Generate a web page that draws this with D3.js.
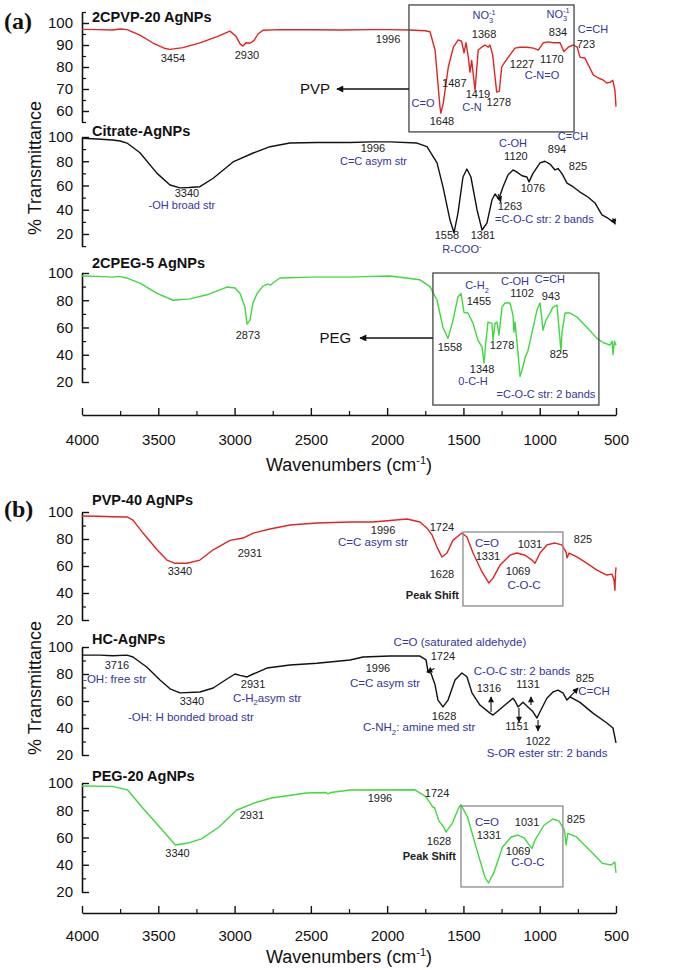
<!DOCTYPE html>
<html><head><meta charset="utf-8">
<script src="https://cdn.jsdelivr.net/npm/d3@7"></script>
<style>body{margin:0;background:#fff} svg{display:block}</style>
</head><body>
<svg id="c" width="685" height="970"></svg>
<script>
// ---------------- DATA ----------------
const xTickValues = [4000,3500,3000,2500,2000,1500,1000,500];
const xMinorTicks = [3750,3250,2750,2250,1750,1250,750];

// (a) 2CPVP-20 AgNPs
const pvp20_wn = [4000,3900,3800,3750,3705,3620,3535,3454,3423,3338,3227,3115,3030,2991,2964,2945,2925,2899,2873,2846,2814,2700,2500,2300,2100,1996,1850,1750,1719,1686,1654,1648,1632,1599,1566,1534,1512,1496,1483,1468,1457,1446,1424,1403,1381,1359,1337,1326,1308,1293,1282,1265,1249,1228,1195,1162,1129,1086,1042,1009,977,944,911,867,841,813,780,754,736,703,682,649,616,583,561,539,521,507,500];
const pvp20_t  = [97.1,97,96.8,97.3,97,94.5,90.9,88.4,88,88.8,91,93.8,96.3,94,90.5,89.5,91,90.8,92,95,96.7,97,96.9,96.8,97,97,96.8,96.5,96,87.7,62,59,63.6,80,89,92.3,91.7,86.4,91,84.5,77.7,83,69.5,87.7,89,90,89,90,85.5,75.5,68.6,69,80,82.3,85.5,88.6,89,89,88.6,87.7,91,91.4,91,91,87,89,90,89,84.5,84,81,76.4,75,74,72.7,73,74,69.5,62];

// (a) Citrate-AgNPs
const citrate_wn = [4000,3900,3800,3750,3705,3620,3508,3423,3358,3300,3227,3140,3010,2878,2768,2637,2460,2243,2100,1981,1805,1739,1673,1634,1588,1562,1536,1503,1477,1451,1411,1378,1346,1313,1293,1267,1241,1208,1175,1149,1116,1084,1070,1044,998,966,933,900,880,855,821,782,736,684,638,592,553,520,500];
const citrate_t  = [99,98.3,97.5,96.7,95,87,70,60.4,58,58.3,59,66,79.4,86.8,92,95,95.5,95.5,96,96,95,92,78.6,58.8,31.5,21,37,67,73.6,67,40,23.3,29,48,53,49,58.8,68.7,72.8,71,68,67,63,70,78.6,80,77.7,72.8,74,70,62,59,54.6,50.5,45.6,35.7,33,30,31.5];

// (a) 2CPEG-5 AgNPs
const peg5_wn = [4000,3900,3800,3760,3705,3620,3508,3403,3292,3181,3050,2997,2964,2932,2918,2899,2879,2853,2814,2781,2765,2745,2702,2500,2243,2100,1981,1785,1719,1673,1634,1601,1568,1536,1516,1496,1470,1437,1405,1378,1365,1352,1339,1313,1306,1293,1280,1267,1247,1228,1195,1175,1169,1162,1142,1129,1110,1096,1077,1051,1018,998,985,979,959,933,913,887,874,861,854,834,802,756,690,625,585,539,525,520,510,500];
const peg5_t  = [97.8,97.5,97,97.5,96.3,92.6,85,80,81,84,89.7,89,85,75,62.5,65.4,78,85,90.4,92,91,93,96.3,97,97,97.5,97.8,95,90,80,60,52,65.4,82.4,85,71,70.6,63,50.7,45.6,34,50.7,64,63,50.7,63,64,54.4,75,78,78,69,56.6,64,41,24,31,38,43,56,72.8,78,65.4,58,65.4,70.6,75,76.5,60,43,56,70.6,70.6,67.7,60,52,49,47,50,40,50,47];

// (b) PVP-40 AgNPs
const pvp40_wn = [4000,3900,3800,3705,3666,3600,3508,3443,3390,3312,3227,3140,3030,2945,2878,2768,2637,2460,2243,2092,1870,1785,1739,1706,1673,1641,1608,1569,1510,1477,1437,1378,1333,1306,1260,1195,1149,1096,1051,1031,998,953,900,855,828,821,808,756,690,625,560,527,513,507,503,500];
const pvp40_t  = [97,96.8,96.5,96.3,94,84.4,72,64.4,62,62,64.4,72,79,80.7,84.4,87.4,90.4,91.8,92.6,92.6,94.8,92.6,88,83,74,66.7,69.6,79,84.4,81.5,69.6,55.6,47.4,51,60.7,68,69.6,68,64.4,62,69.6,75.6,77,75.6,70.4,66,69.6,66.7,62,57,53.3,54,49.6,42,55,59];

// (b) HC-AgNPs
const hc_wn = [4000,3882,3800,3705,3666,3574,3489,3423,3358,3227,3140,3050,2997,2964,2918,2878,2788,2637,2460,2243,2158,1981,1785,1745,1732,1713,1686,1667,1634,1601,1555,1510,1477,1444,1392,1326,1306,1280,1228,1175,1162,1142,1110,1077,1044,1018,998,953,913,880,848,821,802,736,651,560,520,500];
const hc_t  = [94,94,93.5,94,92.6,85,75.6,69,66,66.7,69.6,76.3,80,79,77.8,80,84.4,86.7,88,90.4,92.6,93.3,93.3,90.4,81.5,80.7,72,60.7,55.6,60.7,75.6,80.7,78,66,57,51,49.6,52,57,62,60,55.6,59,55.6,52,47.4,52,62,66.7,68,66,60.7,63,59,51,43.7,40,29];

// (b) PEG-20 AgNPs
const peg20_wn = [4000,3800,3703,3589,3474,3388,3302,3217,3102,2988,2873,2759,2530,2400,2388,2370,2243,1818,1746,1702,1690,1660,1629,1615,1572,1529,1516,1473,1415,1359,1336,1301,1244,1187,1144,1100,1072,1051,1031,972,915,873,838,827,816,759,674,588,531,508,500];
const peg20_t  = [97.8,97.5,95,80,65.5,54.5,56,59,67.7,80,85.3,89,92.7,93,92,93,94.9,95,90,82.4,82,72,67.7,64,70.6,82.4,84,75,52,31,26.6,34,53,60.4,61.8,59.6,55,52,58,69,73.6,72,65.5,54.5,63,60.4,50.8,41,39.8,42,34];

// ---------------- LAYOUT ----------------
const RED = "#e02424", BLACK = "#111", GREEN = "#3fd83f", BLUE = "#34349c", LBL = "#222";
const FONT = "'Liberation Sans', Arial, Helvetica, sans-serif";
const svg = d3.select("#c");
const x = d3.scaleLinear().domain([4000, 500]).range([82, 616]);

const panels = [
  {id:"a", label:"(a)", labelY:29, axisY:415, tickLabY:440, titleY:465, yTitleY:168},
  {id:"b", label:"(b)", labelY:517, axisY:913, tickLabY:936, titleY:957, yTitleY:688}
];

const subs = [
  {panel:"a", name:"2CPVP-20 AgNPs", ty:17, dom:[55,105], rng:[122,12], major:[60,70,80,90,100], minor:[55,65,75,85,95,105], wn:pvp20_wn, t:pvp20_t, color:RED},
  {panel:"a", name:"Citrate-AgNPs", ty:131, dom:[10,100], rng:[246.1,137], major:[20,40,60,80,100], minor:[10,30,50,70,90], wn:citrate_wn, t:citrate_t, color:BLACK},
  {panel:"a", name:"2CPEG-5 AgNPs", ty:263, dom:[20,100], rng:[382,273], major:[20,40,60,80,100], minor:[30,50,70,90], wn:peg5_wn, t:peg5_t, color:GREEN},
  {panel:"b", name:"PVP-40 AgNPs", ty:500, dom:[20,100], rng:[620,512], major:[20,40,60,80,100], minor:[30,50,70,90], wn:pvp40_wn, t:pvp40_t, color:RED},
  {panel:"b", name:"HC-AgNPs", ty:639, dom:[20,100], rng:[755,647], major:[20,40,60,80,100], minor:[30,50,70,90], wn:hc_wn, t:hc_t, color:BLACK},
  {panel:"b", name:"PEG-20 AgNPs", ty:776, dom:[20,100], rng:[892,783], major:[20,40,60,80,100], minor:[30,50,70,90], wn:peg20_wn, t:peg20_t, color:GREEN}
];

// annotation text: [text, wavenumber, %T, colour key, anchor]
const notes = [
  [ ["3454",3404,82.3,"k"],["2930",2919,83.6,"k"],["1996",1994,90.9,"k"],["NO_{3}^{-1}",1365,101.6,"b"],["1368",1365,93.4,"k"],
    ["NO_{3}^{-1}",880,102.5,"b"],["834",880,94.3,"k"],["C=CH",651,95.5,"b"],["723",697,88.6,"k"],["1227",1116,79.5,"k"],
    ["1170",920,81.8,"k"],["C-N=O",985,74.6,"b"],["1487",1560,71,"k"],["1419",1405,65.8,"k"],["1278",1268,62.4,"k"],
    ["C=O",1765,61.8,"b"],["C-N",1444,59.8,"b"],["1648",1641,53.6,"k"] ],
  [ ["3340",3312,50.6,"k"],["-OH broad str",3345,40.8,"b"],["1996",2093,87.5,"k"],["C=C asym str",2309,76.5,"b","start"],
    ["C-OH",1175,91.5,"b"],["1120",1156,80.8,"k"],["C=CH",782,97.8,"b"],["894",887,86.8,"k"],["825",749,72.8,"k"],
    ["1076",1044,54.6,"k"],["1263",1195,39.8,"k"],["=C-O-C str: 2 bands",1293,29.1,"b","start"],["1558",1608,15.9,"k"],
    ["1381",1372,15.9,"k"],["R-COO^{-}",1510,4.3,"b"] ],
  [ ["2873",2912,51.6,"k"],["C-H_{2}",1411,88,"b"],["1455",1398,76.8,"k"],["C-OH",1162,91.2,"b"],["1102",1116,82.4,"k"],
    ["C=CH",933,92.7,"b"],["943",926,80.2,"k"],["1558",1588,42.8,"k"],["1278",1247,44.2,"k"],["825",874,37.6,"k"],
    ["1348",1378,26.6,"k"],["0-C-H",1437,17.5,"b"],["=C-O-C str: 2 bands",959,8.3,"b"] ],
  [ ["3340",3358,53.3,"k"],["2931",2899,66.7,"k"],["1996",2027,83.6,"k"],["C=C asym str",2322,74.8,"b","start"],
    ["1724",1641,85.9,"k"],["C=O",1346,73.8,"b"],["1331",1339,64.8,"k"],["1031",1064,73.3,"k"],["825",716,77,"k"],
    ["1628",1641,51.1,"k"],["1069",1142,53,"k"],["C-O-C",1103,42.6,"b"],["Peak Shift",1529,35.6,"s","end"] ],
  [ ["3716",3771,83.7,"k"],["-OH: free str",3993,73.3,"b","start"],["3340",3279,57,"k"],["-OH: H bonded broad str",3699,45.2,"b","start"],
    ["2931",2879,69.5,"k"],["C-H_{2}asym str",3010,59.3,"b","start"],["C=O (saturated aldehyde)",1523,100.9,"b"],
    ["1724",1634,90.4,"k"],["1996",2060,81.2,"k"],["C=C asym str",2014,70.2,"b"],["C-O-C str: 2 bands",1116,79.3,"b"],
    ["1316",1333,66.7,"k"],["1131",1077,69.6,"k"],["825",703,74.1,"k"],["C=CH",644,64.4,"b"],["1628",1627,46.2,"k"],
    ["C-NH_{2}: amine med str",2158,37.6,"b","start"],["1151",1149,38.5,"k"],["1022",1011,27.6,"k"],["S-OR ester str: 2 bands",952,18.7,"b"] ],
  [ ["3340",3374,45.7,"k"],["2931",2886,73.6,"k"],["1996",2047,86,"k"],["1724",1673,89.7,"k"],["1628",1660,54.5,"k"],
    ["Peak Shift",1549,43.5,"s","end"],["C=O",1346,68.8,"b"],["1331",1333,58.6,"k"],["1031",1083,68.4,"k"],["825",762,70.6,"k"],
    ["1069",1142,47.3,"k"],["C-O-C",1077,39.2,"b"] ]
];
// highlight boxes: [sub index, wn left, wn right, %T top, %T bottom, stroke]
const boxes = [[0,1857,775,108.2,50.5,"#444"],[2,1700,612,100,3.1,"#444"],[3,1503,848,85.2,30.4,"#8a8a8a"],[5,1516,848,83.1,23.7,"#8a8a8a"]];
// pointer arrows: [sub index, from wn, from %T, to wn, to %T, big]
const arrows = [[0,1857,70,2329,70,1],[2,1700,52.3,2178,52.3,1],
  [1,1272,53,1255,46.5,0],[1,522,33,505,28,0],
  [4,1319,51.9,1319,63,0],[4,1136,54.8,1136,44.4,0],[4,1057,57,1057,63,0],[4,1011,45.9,1011,37.8,0],[4,802,63,749,69.6,0],[4,1690,84,1740,81.5,0]];
const pointerText = [[0,"PVP",2375,70],[2,"PEG",2235,52.3]];

// ---------------- DRAW ----------------
const defs = svg.append("defs");
defs.append("marker").attr("id","ahBig").attr("viewBox","0 0 10 10").attr("refX",9).attr("refY",5)
  .attr("markerWidth",9).attr("markerHeight",7).attr("markerUnits","userSpaceOnUse").attr("orient","auto")
  .append("path").attr("d","M0,0 L10,5 L0,10 z").attr("fill","#111");
defs.append("marker").attr("id","ahSm").attr("viewBox","0 0 10 10").attr("refX",9).attr("refY",5)
  .attr("markerWidth",7).attr("markerHeight",6).attr("markerUnits","userSpaceOnUse").attr("orient","auto")
  .append("path").attr("d","M0,0 L10,5 L0,10 z").attr("fill","#111");

function richText(g, str, px, py, opt) {
  const t = g.append("text").attr("x",px).attr("y",py).attr("font-family",FONT)
    .attr("font-size",opt.size).attr("fill",opt.fill).attr("text-anchor",opt.anchor||"middle")
    .attr("font-weight",opt.bold?"bold":"normal").attr("dy","0.35em");
  const toks = str.match(/(_\{[^}]*\}|\^\{[^}]*\}|[^_^]+)/g);
  let cur = 0, lastSub = null;
  toks.forEach(tok => {
    let kind = "n", s = tok;
    if (tok.startsWith("_{")) { kind="sub"; s = tok.slice(2,-1); }
    else if (tok.startsWith("^{")) { kind="sup"; s = tok.slice(2,-1); }
    const target = kind==="sub" ? opt.size*0.3 : kind==="sup" ? -opt.size*0.4 : 0;
    const ts = t.append("tspan").text(s).attr("dy", target-cur);
    if (kind!=="n") ts.attr("font-size", opt.size*0.68);
    if (kind==="sup" && lastSub) ts.attr("dx", -lastSub.node().getComputedTextLength());
    lastSub = kind==="sub" ? ts : null;
    cur = target;
  });
  return t;
}

panels.forEach(p => {
  const g = svg.append("g");
  const ax = d3.axisBottom(x).tickValues(xTickValues).tickSizeInner(-7).tickSizeOuter(0).tickPadding(16).tickFormat(d3.format("d"));
  const ag = g.append("g").attr("transform",`translate(0,${p.axisY})`).call(ax);
  ag.select(".domain").attr("stroke","#111").attr("stroke-width",1.6);
  ag.selectAll(".tick line").attr("stroke","#111").attr("stroke-width",1.4);
  ag.selectAll(".tick text").attr("font-family",FONT).attr("font-size",15).attr("fill","#111").attr("y", p.tickLabY - p.axisY).attr("dy","0.35em");
  const mg = g.append("g").attr("transform",`translate(0,${p.axisY})`)
    .call(d3.axisBottom(x).tickValues(xMinorTicks).tickSizeInner(-4).tickSizeOuter(0).tickFormat(""));
  mg.select(".domain").remove();
  mg.selectAll(".tick line").attr("stroke","#111").attr("stroke-width",1.2);
  const tt = g.append("text").attr("x",349).attr("y",p.titleY).attr("dy","0.35em").attr("text-anchor","middle")
    .attr("font-family",FONT).attr("font-size",18).attr("fill","#111");
  tt.append("tspan").text("Wavenumbers (cm");
  tt.append("tspan").text("-1").attr("font-size",11).attr("dy",-7);
  tt.append("tspan").text(")").attr("dy",7);
  g.append("text").attr("transform",`translate(35,${p.yTitleY}) rotate(-90)`).attr("text-anchor","middle").attr("dy","0.35em")
    .attr("font-family",FONT).attr("font-size",18).attr("fill","#111").text("% Transmittance");
  g.append("text").attr("x",4).attr("y",p.labelY).attr("font-family","'Liberation Serif','Times New Roman',serif")
    .attr("font-weight","bold").attr("font-size",24).attr("fill","#111").text(p.label);
});

subs.forEach((s, i) => {
  const g = svg.append("g");
  const y = d3.scaleLinear().domain(s.dom).range(s.rng);
  s.y = y;
  const ya = g.append("g").attr("transform","translate(82,0)")
    .call(d3.axisLeft(y).tickValues(s.major).tickSizeInner(-7).tickSizeOuter(0).tickPadding(9).tickFormat(d3.format("d")));
  ya.select(".domain").attr("stroke","#111").attr("stroke-width",1.6);
  ya.selectAll(".tick line").attr("stroke","#111").attr("stroke-width",1.4);
  ya.selectAll(".tick text").attr("font-family",FONT).attr("font-size",15).attr("fill","#111");
  const ym = g.append("g").attr("transform","translate(82,0)")
    .call(d3.axisLeft(y).tickValues(s.minor).tickSizeInner(-4).tickSizeOuter(0).tickFormat(""));
  ym.select(".domain").remove();
  ym.selectAll(".tick line").attr("stroke","#111").attr("stroke-width",1.2);
  g.append("text").attr("x",92).attr("y",s.ty).attr("dy","0.35em").attr("font-family",FONT).attr("font-weight","bold")
    .attr("font-size",14.5).attr("fill","#111").text(s.name);
  const pts = s.wn.map((w,k)=>[w, s.t[k]]);
  g.append("path").datum(pts).attr("fill","none").attr("stroke",s.color).attr("stroke-width",1.4)
    .attr("stroke-linejoin","round").attr("d", d3.line().x(d=>x(d[0])).y(d=>y(d[1])));
});

boxes.forEach(b => {
  const y = subs[b[0]].y;
  svg.append("rect").attr("x",x(b[1])).attr("y",y(b[3])).attr("width",x(b[2])-x(b[1])).attr("height",y(b[4])-y(b[3]))
    .attr("fill","none").attr("stroke",b[5]).attr("stroke-width",1.3);
});
arrows.forEach(a => {
  const y = subs[a[0]].y;
  svg.append("line").attr("x1",x(a[1])).attr("y1",y(a[2])).attr("x2",x(a[3])).attr("y2",y(a[4]))
    .attr("stroke","#111").attr("stroke-width",a[5]?1.3:1.1).attr("marker-end",`url(#${a[5]?"ahBig":"ahSm"})`);
});
pointerText.forEach(p => {
  const y = subs[p[0]].y;
  svg.append("text").attr("x",x(p[2])).attr("y",y(p[3])).attr("dy","0.35em").attr("text-anchor","end")
    .attr("font-family",FONT).attr("font-size",15).attr("fill","#111").text(p[1]);
});
notes.forEach((list, i) => {
  const s = subs[i];
  const g = svg.append("g");
  const big = s.panel === "b";
  list.forEach(n => {
    const col = n[3]==="b" ? BLUE : LBL;
    const size = n[3]==="b" ? (big?11.5:11) : 11;
    richText(g, n[0], x(n[1]), s.y(n[2]), {size: n[3]==="s"?11:size, fill: col, anchor: n[4]||"middle", bold: n[3]==="s"});
  });
});
</script>
</body></html>
